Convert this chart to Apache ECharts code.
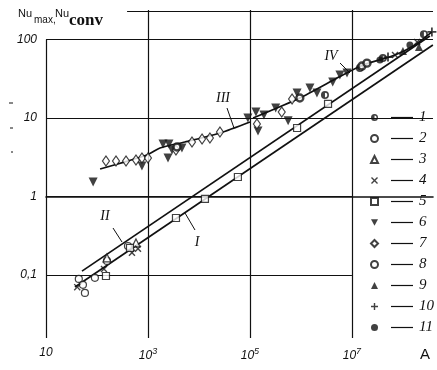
<!DOCTYPE html>
<html>
<head>
<meta charset="utf-8">
<script src="https://cdn.jsdelivr.net/npm/echarts@6/dist/echarts.min.js"></script>
<style>
  html, body { margin: 0; padding: 0; background: #fff; }
  #main { width: 437px; height: 370px; }
</style>
</head>
<body>
<div id="main"></div>
<script>
// points, [A, Nu]
const s1 = [[2.96e6, 19.6], [1.43e7, 43.3], [4.05e7, 58], [2.58e8, 117]];
const s2 = [[44, 0.089], [58, 0.059], [53, 0.075], [91, 0.092], [157, 0.151], [405, 0.234]];
const s3 = [[157, 0.165], [582, 0.256]];
const s4 = [[41, 0.07], [137, 0.119], [485, 0.192], [637, 0.216], [7.0e7, 63.5], [1.9e8, 93]];
const s5 = [[150, 0.097], [444, 0.221], [3540, 0.532], [1.31e4, 0.93], [5.8e4, 1.77], [8.4e5, 7.46], [3.4e6, 15.1]];
const s6 = [[84, 1.53], [762, 2.45], [1970, 4.66], [2580, 4.66], [2960, 3.91], [2470, 3.09], [4640, 4.15],
  [9.1e4, 10], [1.31e5, 11.9], [1.44e5, 6.83], [1.88e5, 10.9], [3.2e5, 13.4], [5.6e5, 9.2], [8.4e5, 20.8],
  [1.5e6, 24.1], [2.06e6, 20.8], [4.2e6, 28.7], [5.8e6, 35.3], [8.0e6, 37.4]];
const s7 = [[150, 2.83], [236, 2.83], [371, 2.83], [582, 2.92], [762, 3.09], [1000, 3.09], [3540, 3.91],
  [7300, 4.95], [1.15e4, 5.4], [1.64e4, 5.56], [2.58e4, 6.63], [1.37e5, 8.39], [4.2e5, 11.9], [6.7e5, 17.5]];
const s8 = [[3700, 4.27], [9.5e5, 18], [1.57e7, 45.9], [1.97e7, 50]];
const s9 = [[1e8, 71.4], [2.06e8, 80]];
const s10 = [[5.1e7, 59.8], [3.7e8, 125]];
const s11 = [[3.54e7, 54.8], [1.37e8, 85]];

// curves I - IV
const lineI = [[37, 0.0703], [3.87e8, 85]];
const lineII = [[50.8, 0.112], [3.38e8, 111]];
const lineIII = [[115, 2.24], [955, 3.38], [1720, 4.15], [5300, 4.95], [2.58e4, 6.44], [1e5, 8.9]];
const lineIV = [[1.15e5, 10], [9.5e5, 18], [5.8e6, 33.8], [1.57e7, 46.7], [7e7, 63.5], [1.72e8, 85], [3.7e8, 125]];

// ticks (powers of ten)
const xTicks = [1, 3, 5, 7];
const yTicks = [-1, 0, 1, 2];
const yTickLabels = ['0,1', '1', '10', '100'];
const legendNames = ['1', '2', '3', '4', '5', '6', '7', '8', '9', '10', '11'];

const X0 = 1, X1 = 8.59, Y0 = -1.803, Y1 = 2.376;
const INK = '#111';
const lg = arr => arr.map(p => [Math.log10(p[0]), Math.log10(p[1])]);

const plus = 'path://M4,0H6V4H10V6H6V10H4V6H0V4H4Z';
const cross = 'path://M1.4,0L5,3.6L8.6,0L10,1.4L6.4,5L10,8.6L8.6,10L5,6.4L1.4,10L0,8.6L3.6,5L0,1.4Z';
const down = 'path://M0,0L10,0L5,9Z';
const half = 'path://M0,-5A5,5 0 1 1 0,5A5,5 0 1 1 0,-5ZM0,-3L0,3A3,3 0 0 0 0,-3Z';
const open = { color: '#fff', borderColor: INK, borderWidth: 1.2 };
const solid = { color: INK, borderWidth: 0 };

function pts(name, data, symbol, size, style) {
  return {
    type: 'scatter', name: name, data: lg(data), symbol: symbol, symbolSize: size,
    itemStyle: style, z: 5, silent: true
  };
}
function seg(a, b) { return [{ coord: a }, { coord: b }]; }

const grid = [
  seg([X0, 2], [X1, 2]), seg([X0, 1], [X1, 1]),
  seg([X0, 0], [7, 0]), seg([X0, -1], [7, -1]),
  seg([3, Y0], [3, Y1]), seg([5, Y0], [5, Y1]), seg([7, Y0], [7, Y1]),
  seg([X0, Y0], [X0, 2]), seg([2.59, Y1 - 0.01], [X1, Y1 - 0.01])
];

function curve(name, data, smooth, extra) {
  return Object.assign({
    type: 'line', name: name, data: lg(data), showSymbol: false, smooth: smooth,
    lineStyle: { color: INK, width: 1.7 }, z: 3, silent: true
  }, extra || {});
}

const roman = { fontFamily: 'Liberation Serif', fontStyle: 'italic', fontSize: 14, fill: INK };
function label(t, x, y) {
  return { type: 'text', x: x, y: y, style: Object.assign({ text: t, align: 'center', verticalAlign: 'middle' }, roman) };
}
function leader(x1, y1, x2, y2) {
  return { type: 'line', shape: { x1: x1, y1: y1, x2: x2, y2: y2 }, style: { stroke: INK, lineWidth: 1 } };
}

const chart = echarts.init(document.getElementById('main'));
chart.setOption({
  animation: false,
  backgroundColor: '#fff',
  grid: { left: 46, right: 4, top: 10, bottom: 32 },
  xAxis: {
    type: 'value', min: X0, max: X1,
    splitLine: { show: false }, axisTick: { show: false },
    axisLine: { lineStyle: { color: INK, width: 1.6 } },
    axisLabel: {
      customValues: xTicks, margin: 9, color: INK,
      fontFamily: 'Liberation Sans', fontStyle: 'italic', fontSize: 12,
      formatter: v => v === 1 ? '10' : '10{s|' + v + '}',
      rich: { s: { fontSize: 9, fontStyle: 'italic', fontFamily: 'Liberation Sans', verticalAlign: 'bottom', padding: [0, 0, 8, 0] } }
    }
  },
  yAxis: {
    type: 'value', min: Y0, max: Y1,
    splitLine: { show: false }, axisTick: { show: false }, axisLine: { show: false },
    axisLabel: {
      customValues: yTicks, margin: 9, color: INK,
      fontFamily: 'Liberation Sans', fontStyle: 'italic', fontSize: 12,
      formatter: v => yTickLabels[yTicks.indexOf(v)]
    }
  },
  legend: {
    data: legendNames,
    orient: 'vertical', left: 365, top: 105,
    itemWidth: 7, itemHeight: 7, itemGap: 6, selectedMode: false,
    formatter: n => '{s|}{d|}{p|}{n|' + n + '}',
    textStyle: {
      color: INK,
      rich: {
        s: { width: 8 },
        d: { width: 22, height: 1.2, backgroundColor: INK },
        p: { width: 6 },
        n: { fontFamily: 'Liberation Serif', fontStyle: 'italic', fontSize: 15, lineHeight: 14, color: INK }
      }
    }
  },
  series: [
    curve('I', lineI, false, {
      markLine: {
        silent: true, symbol: ['none', 'none'], label: { show: false },
        lineStyle: { color: INK, width: 1.2, type: 'solid' }, data: grid
      }
    }),
    curve('II', lineII, false),
    curve('III', lineIII, 0.25),
    curve('IV', lineIV, 0.2),
    pts('1', s1, half, 8, solid),
    pts('2', s2, 'circle', 7, open),
    pts('3', s3, 'triangle', 8, open),
    pts('4', s4, cross, 7, solid),
    pts('5', s5, 'rect', 7, open),
    pts('6', s6, down, 9, solid),
    pts('7', s7, 'diamond', [7, 10], open),
    pts('8', s8, 'circle', 7, { color: '#fff', borderColor: INK, borderWidth: 2.4 }),
    pts('9', s9, 'triangle', 8, solid),
    pts('10', s10, plus, 9, solid),
    pts('11', s11, 'circle', 7, solid)
  ],
  graphic: [
    { type: 'text', x: 18, y: 8, style: { text: 'Nu', fontFamily: 'Liberation Sans', fontSize: 11, fill: INK } },
    { type: 'text', x: 34, y: 15, style: { text: 'max,', fontFamily: 'Liberation Sans', fontSize: 10, fill: INK } },
    { type: 'text', x: 55, y: 8, style: { text: 'Nu', fontFamily: 'Liberation Sans', fontSize: 11, fill: INK } },
    { type: 'text', x: 69, y: 12, style: { text: 'conv', fontFamily: 'Liberation Serif', fontSize: 17, fontWeight: 'bold', fill: INK } },
    { type: 'text', x: 420, y: 347, style: { text: 'A', fontFamily: 'Liberation Sans', fontSize: 15, fill: INK } },
    label('I', 197, 242), leader(185, 213, 195, 230),
    label('II', 105, 216), leader(113, 228, 122, 242),
    label('III', 223, 98), leader(227, 108, 234, 128),
    label('IV', 331, 56), leader(340, 63, 350, 73),
    leader(9, 103, 13, 103), leader(10, 128, 13, 128), leader(11, 152, 13, 152)
  ]
});
</script>
</body>
</html>
